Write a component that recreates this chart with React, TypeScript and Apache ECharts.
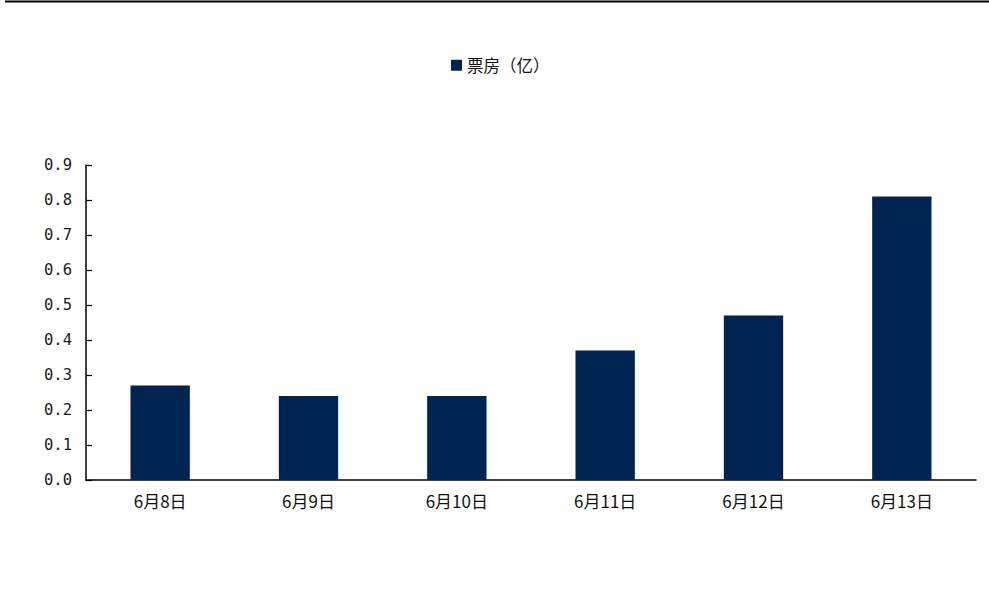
import React, { useEffect, useRef } from "react";
import * as echarts from "echarts";

const categories = ["6月8日", "6月9日", "6月10日", "6月11日", "6月12日", "6月13日"];
const boxOffice = [0.27, 0.24, 0.24, 0.37, 0.47, 0.81];
const seriesName = "票房（亿）";

export default function App() {
  const ref = useRef<HTMLDivElement>(null);
  useEffect(() => {
    document.body.style.margin = "0";
    const chart = echarts.init(ref.current!, undefined, { renderer: "svg" });
    const font = "'Noto Sans CJK SC', 'DejaVu Sans', sans-serif";
    chart.setOption({
      animation: false,
      backgroundColor: "#fff",
      graphic: [
        {
          type: "line",
          shape: { x1: 5, y1: 1.5, x2: 989, y2: 1.5 },
          style: { stroke: "#000", lineWidth: 2 },
        },
      ],
      legend: {
        top: 52,
        left: 446,
        itemWidth: 11,
        itemHeight: 11,
        itemGap: 8,
        icon: "rect",
        textStyle: { fontSize: 16.5, color: "#111", fontFamily: font },
        data: [seriesName],
      },
      grid: { left: 86, right: 13, top: 165, bottom: 123, containLabel: false },
      xAxis: {
        type: "category",
        data: categories,
        axisLine: { lineStyle: { color: "#000", width: 1.5 } },
        axisTick: { inside: true, length: 6, lineStyle: { color: "#000", width: 1.2 } },
        axisLabel: { fontSize: 17, color: "#111", margin: 12, fontFamily: font },
      },
      yAxis: {
        type: "value",
        min: 0,
        max: 0.9,
        interval: 0.1,
        splitLine: { show: false },
        axisLine: { show: true, lineStyle: { color: "#000", width: 1.5 } },
        axisTick: { show: true, inside: true, length: 6, lineStyle: { color: "#000", width: 1.2 } },
        axisLabel: {
          fontSize: 15.5,
          color: "#1a1a1a",
          margin: 14,
          fontFamily: "'DejaVu Sans Mono', monospace",
          formatter: (v: number) => v.toFixed(1),
        },
      },
      series: [
        {
          name: seriesName,
          type: "bar",
          data: boxOffice,
          barWidth: "40%",
          itemStyle: { color: "#002452" },
        },
      ],
    });
    return () => chart.dispose();
  }, []);
  return <div ref={ref} style={{ width: 989, height: 603 }} />;
}
